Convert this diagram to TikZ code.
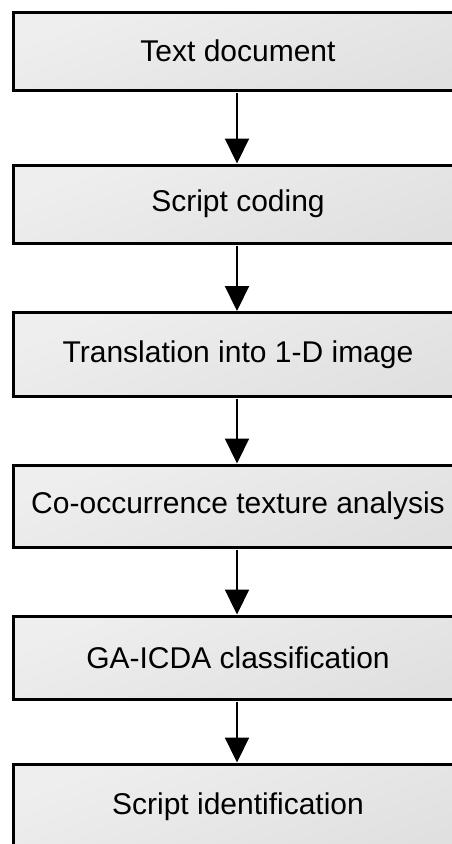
\documentclass[tikz,border=0pt]{standalone}
\usepackage{fontspec}
\setmainfont{Liberation Sans}
\usetikzlibrary{arrows.meta}
\tikzset{
  stage/.style={draw=black, line width=3pt, minimum width=450pt, inner sep=0pt,
    top color=gray!13, bottom color=gray!24, shading angle=20,
    font=\fontsize{30}{36}\selectfont, text=black},
  flow/.style={line width=2.2pt, -{Triangle[width=24pt,length=25pt]}, shorten <=1pt}
}
\begin{document}
\begin{tikzpicture}[x=1pt,y=-1pt]
\useasboundingbox (0,0) rectangle (452,844);
\clip (0,0) rectangle (452,844);
\fill[white] (0,0) rectangle (452,844);
% the six processing stages, top to bottom
\node[stage, minimum height=78pt] (s1) at (238,51)    {Text document};
\node[stage, minimum height=78pt] (s2) at (238,204)   {Script coding};
\node[stage, minimum height=84pt] (s3) at (238,354.5) {Translation into 1-D image};
\node[stage, minimum height=82pt] (s4) at (238,506)   {Co-occurrence texture analysis};
\node[stage, minimum height=83pt] (s5) at (238,657.5) {GA-ICDA classification};
\node[stage, minimum height=86pt] (s6) at (238,807)   {Script identification};
% connectors between consecutive stages
\draw[flow] (s1.south -| 237,0) -- (s2.north -| 237,0);
\draw[flow] (s2.south -| 237,0) -- (s3.north -| 237,0);
\draw[flow] (s3.south -| 237,0) -- (s4.north -| 237,0);
\draw[flow] (s4.south -| 237,0) -- (s5.north -| 237,0);
\draw[flow] (s5.south -| 237,0) -- (s6.north -| 237,0);
\end{tikzpicture}
\end{document}
